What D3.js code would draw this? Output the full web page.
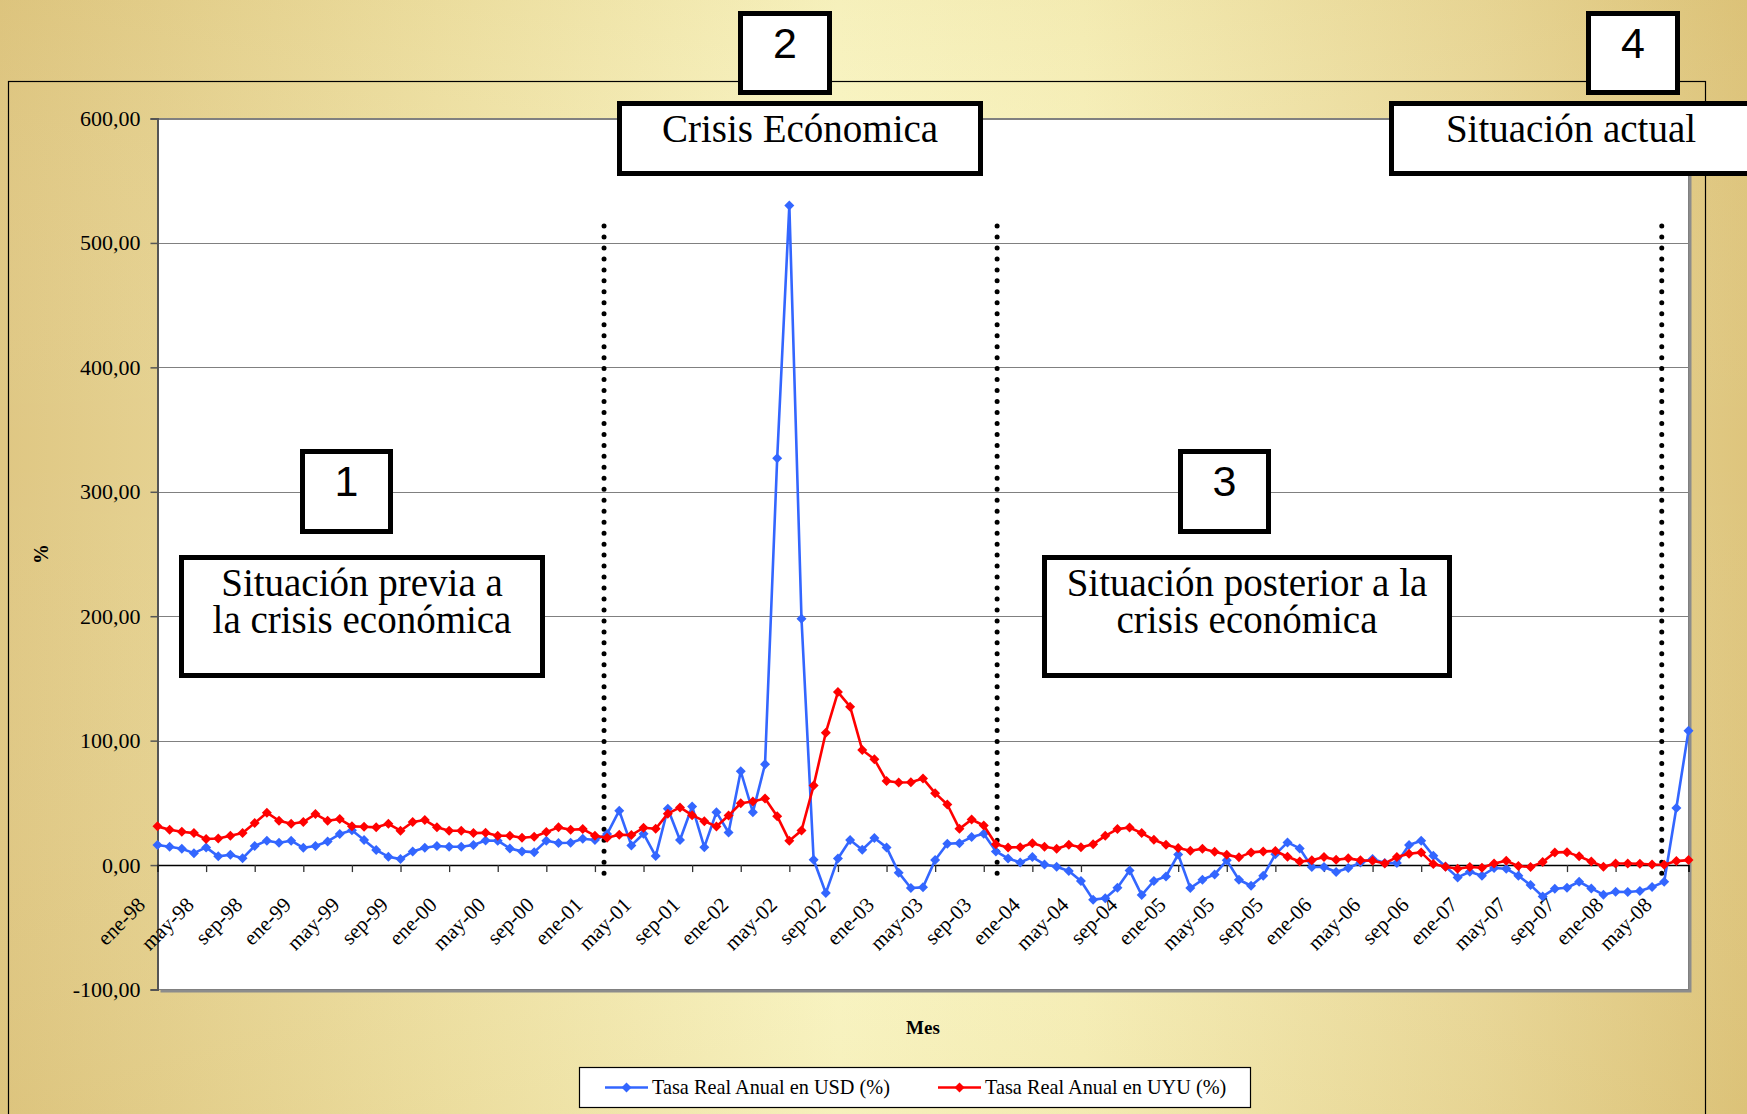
<!DOCTYPE html>
<html>
<head>
<meta charset="utf-8">
<script src="https://cdn.jsdelivr.net/npm/d3@7"></script>
<style>
  html, body { margin: 0; padding: 0; overflow: hidden; background: #fff; }
  svg { display: block; }
</style>
</head>
<body>
<svg id="chart" width="1747" height="1114"></svg>
<script>
// ---------------- DATA ----------------
const monthNames = ["ene","feb","mar","abr","may","jun","jul","ago","sep","oct","nov","dic"];
const years = ["98","99","00","01","02","03","04","05","06","07","08"];
const lastMonthOf2008 = 7; // ene-98 ... jul-08
const categories = [];
years.forEach((yy, yi) => monthNames.forEach((m, mi) => {
  if (yi < years.length - 1 || mi < lastMonthOf2008) categories.push(m + "-" + yy);
}));
const tickLabels = categories.filter((c, i) => i % 4 === 0);

const usdRate = [
  16.1, 14.7, 13.1, 9.6, 14.2, 7.0, 8.3, 5.4, 15.3, 19.6,
  17.9, 19.6, 13.9, 15.3, 19.0, 24.9, 27.9, 20.1, 12.1, 6.7,
  4.8, 11.0, 13.9, 15.3, 14.7, 14.7, 16.1, 19.8, 19.6, 13.4,
  11.0, 10.4, 19.6, 17.7, 17.9, 21.2, 20.1, 24.9, 43.7, 15.8,
  25.2, 7.2, 45.3, 20.1, 47.1, 14.4, 42.5, 26.2, 75.4, 42.5,
  81.0, 327.0, 530.0, 198.0, 4.3, -22.5, 5.3, 20.1, 12.3, 21.7,
  14.2, -6.1, -18.4, -17.9, 4.0, 17.1, 17.6, 22.5, 25.1, 11.0,
  5.3, 2.1, 6.4, 0.5, -1.3, -4.8, -12.8, -27.8, -26.7, -18.2,
  -4.3, -24.1, -12.8, -9.1, 8.5, -18.5, -11.8, -7.5, 3.8, -11.8,
  -16.6, -8.6, 8.6, 18.2, 13.4, -1.6, -1.6, -5.6, -2.4, 2.1,
  4.8, 1.6, 1.6, 16.1, 19.6, 7.5, -1.1, -9.9, -5.4, -8.6,
  -2.4, -2.9, -8.6, -16.1, -25.2, -19.0, -18.2, -13.4, -18.8, -23.8,
  -21.4, -21.7, -20.9, -17.7, -13.4, 45.8, 108.0
];
const uyuRate = [
  31.1, 28.4, 26.8, 25.7, 20.9, 21.4, 23.6, 25.7, 33.8, 42.1,
  35.6, 33.2, 34.6, 41.0, 35.6, 37.0, 31.1, 30.8, 30.3, 33.2,
  27.6, 34.6, 36.2, 30.3, 27.6, 27.6, 25.7, 26.0, 23.6, 23.6,
  22.0, 22.8, 26.5, 30.3, 28.4, 28.9, 23.6, 22.0, 24.4, 24.1,
  30.0, 29.2, 41.3, 46.3, 40.1, 35.3, 31.0, 39.8, 49.7, 51.1,
  53.5, 39.3, 19.5, 27.8, 63.9, 106.4, 139.0, 127.3, 92.5, 85.0,
  67.6, 66.3, 66.6, 69.5, 57.8, 48.7, 29.1, 36.6, 31.8, 16.8,
  14.2, 14.4, 17.6, 14.7, 13.1, 16.3, 14.4, 16.8, 23.5, 28.9,
  30.2, 25.7, 20.3, 16.3, 13.7, 11.5, 13.1, 10.7, 8.3, 6.2,
  10.2, 11.0, 11.3, 6.7, 2.9, 3.8, 6.4, 4.3, 5.4, 3.8,
  3.5, 1.3, 6.4, 9.1, 10.2, 0.8, -1.3, -2.9, -1.6, -2.1,
  1.3, 3.5, -0.8, -1.6, 2.4, 10.2, 10.4, 7.0, 2.9, -1.3,
  1.3, 1.3, 1.1, 0.5, 0.3, 3.2, 4.0
];
const seriesNames = ["Tasa Real Anual en USD (%)", "Tasa Real Anual en UYU (%)"];
const yTicks = [-100, 0, 100, 200, 300, 400, 500, 600];
// phase separators, expressed as (fractional) month index
const phaseBreaks = [36.75, 69.1, 123.8];
const phaseNumbers = ["1", "2", "3", "4"];
const phaseTitles = [
  ["Situación previa a", "la crisis económica"],
  ["Crisis Ecónomica"],
  ["Situación posterior a la", "crisis económica"],
  ["Situación actual"]
];

// ---------------- LAYOUT ----------------
const W = 1747, H = 1114;
const plot = { left: 157.5, right: 1688.5, top: 118.5, bottom: 989.5 };
const colors = { usd: "#3366FF", uyu: "#FF0000" };
const serif = "'Liberation Serif','Times New Roman',Times,serif";
const sans = "'Liberation Sans',Arial,Helvetica,sans-serif";

const svg = d3.select("#chart");
const defs = svg.append("defs");

// background gradient
const bg = defs.append("linearGradient").attr("id", "bgGrad").attr("x1", "0").attr("x2", "1").attr("y1", "0").attr("y2", "0");
[["0%", "#dfc783"], ["25%", "#efe2a6"], ["48%", "#fbf8c8"], ["62%", "#f8f2bd"], ["85%", "#ead99b"], ["100%", "#dec57d"]]
  .forEach(([o, c]) => bg.append("stop").attr("offset", o).attr("stop-color", c));
const bgV = defs.append("linearGradient").attr("id", "bgGradV").attr("x1", "0").attr("x2", "0").attr("y1", "0").attr("y2", "1");
[["0%", "#c8a84a", 0.10], ["40%", "#ffffff", 0], ["100%", "#c8a84a", 0.10]]
  .forEach(([o, c, a]) => bgV.append("stop").attr("offset", o).attr("stop-color", c).attr("stop-opacity", a));

svg.append("rect").attr("width", W).attr("height", H).attr("fill", "url(#bgGrad)");
svg.append("rect").attr("width", W).attr("height", H).attr("fill", "url(#bgGradV)");

// chart frame
svg.append("rect").attr("x", 8.5).attr("y", 81.5).attr("width", 1705.5 - 8.5).attr("height", 1200)
  .attr("fill", "none").attr("stroke", "#000").attr("stroke-width", 1.2);

// scales
const x = d3.scalePoint().domain(categories).range([plot.left, plot.right]);
const xIdx = d3.scaleLinear().domain([0, categories.length - 1]).range([plot.left, plot.right]);
const y = d3.scaleLinear().domain([-100, 600]).range([plot.bottom, plot.top]);

// plot area with shadow
svg.append("rect").attr("x", plot.left + 3).attr("y", plot.top + 3)
  .attr("width", plot.right - plot.left).attr("height", plot.bottom - plot.top).attr("fill", "#8c8c8c");
svg.append("rect").attr("x", plot.left).attr("y", plot.top)
  .attr("width", plot.right - plot.left).attr("height", plot.bottom - plot.top)
  .attr("fill", "#fff").attr("stroke", "#808080").attr("stroke-width", 1);

// gridlines
svg.append("g").selectAll("line").data(yTicks.filter(v => v !== 0 && v !== -100)).join("line")
  .attr("x1", plot.left).attr("x2", plot.right)
  .attr("y1", d => Math.round(y(d)) + 0.5).attr("y2", d => Math.round(y(d)) + 0.5)
  .attr("stroke", "#808080").attr("stroke-width", 1.2);

// y axis
const fmt = d => d3.format(".2f")(d).replace("−", "-").replace(".", ",");
const yAxis = svg.append("g").attr("transform", `translate(${plot.left},0)`)
  .call(d3.axisLeft(y).tickValues(yTicks).tickFormat(fmt).tickSize(7).tickPadding(10));
yAxis.select(".domain").attr("stroke", "#555").attr("stroke-width", 2);
yAxis.selectAll(".tick line").attr("stroke", "#555").attr("stroke-width", 1.5);
yAxis.selectAll(".tick text").attr("font-family", serif).attr("font-size", 22).attr("fill", "#000");

// x axis at y = 0
const xAxis = svg.append("g").attr("transform", `translate(0,${y(0)})`)
  .call(d3.axisBottom(x).tickValues(tickLabels).tickSize(7).tickFormat(""));
xAxis.select(".domain").attr("stroke", "#000").attr("stroke-width", 1.6);
xAxis.selectAll(".tick line").attr("stroke", "#333").attr("stroke-width", 1.3);
svg.append("g").selectAll("text").data(tickLabels).join("text")
  .attr("transform", d => `translate(${x(d) - 11},${y(0) + 41}) rotate(-45)`)
  .attr("text-anchor", "end")
  .attr("font-family", serif).attr("font-size", 21).attr("fill", "#000")
  .text(d => d);

// axis titles
svg.append("text").attr("transform", `translate(48,554) rotate(-90)`)
  .attr("text-anchor", "middle").attr("font-family", serif).attr("font-weight", "bold")
  .attr("font-size", 20).text("%");
svg.append("text").attr("x", (plot.left + plot.right) / 2).attr("y", 1034)
  .attr("text-anchor", "middle").attr("font-family", serif).attr("font-weight", "bold")
  .attr("font-size", 19).text("Mes");

// dotted phase separators
svg.append("g").selectAll("line").data(phaseBreaks).join("line")
  .attr("x1", d => xIdx(d)).attr("x2", d => xIdx(d))
  .attr("y1", 226).attr("y2", 876)
  .attr("stroke", "#000").attr("stroke-width", 5)
  .attr("stroke-linecap", "round").attr("stroke-dasharray", "0 10.97");

// series
const diamond = { draw(ctx, size) { const r = Math.sqrt(size) / 2; ctx.moveTo(0, -r); ctx.lineTo(r, 0); ctx.lineTo(0, r); ctx.lineTo(-r, 0); ctx.closePath(); } };
const diamondPath = d3.symbol().type(diamond).size(100)();
const line = d3.line().x((d, i) => x(categories[i])).y(d => y(d));
const series = [
  { name: seriesNames[0], values: usdRate, color: colors.usd },
  { name: seriesNames[1], values: uyuRate, color: colors.uyu }
];
series.forEach(s => {
  const g = svg.append("g");
  g.append("path").attr("d", line(s.values)).attr("fill", "none")
    .attr("stroke", s.color).attr("stroke-width", 2.6).attr("stroke-linejoin", "round");
  g.selectAll("path.m").data(s.values).join("path").attr("class", "m")
    .attr("d", diamondPath)
    .attr("transform", (d, i) => `translate(${x(categories[i])},${y(d)})`)
    .attr("fill", s.color);
});

// annotation boxes
function box(x0, y0, x1, y1) {
  svg.append("rect").attr("x", x0 + 2.5).attr("y", y0 + 2.5)
    .attr("width", x1 - x0 - 5).attr("height", y1 - y0 - 5)
    .attr("fill", "#fff").attr("stroke", "#000").attr("stroke-width", 5);
}
const numBoxes = [[300, 449, 393, 534], [738, 11, 832, 95], [1178, 449, 1271, 534], [1586, 11, 1680, 95]];
const titleBoxes = [[179, 555, 545, 678], [617, 101, 983, 176], [1042, 555, 1452, 678], [1389, 101, 1770, 176]];
const titleCenters = [362, 800, 1247, 1571];
numBoxes.forEach((b, i) => {
  box(...b);
  svg.append("text").attr("x", (b[0] + b[2]) / 2).attr("y", b[1] + 47)
    .attr("text-anchor", "middle").attr("font-family", sans).attr("font-size", 43)
    .text(phaseNumbers[i]);
});
titleBoxes.forEach((b, i) => {
  box(...b);
  const t = svg.append("text").attr("text-anchor", "middle").attr("font-family", serif).attr("font-size", 39);
  phaseTitles[i].forEach((s, k) => {
    t.append("tspan").attr("x", titleCenters[i]).attr("y", b[1] + 41 + k * 37).text(s);
  });
});

// legend
const leg = svg.append("g");
leg.append("rect").attr("x", 579.5).attr("y", 1067.5).attr("width", 671).attr("height", 40)
  .attr("fill", "#fff").attr("stroke", "#000").attr("stroke-width", 1.2);
const legItems = [{ x0: 605, tx: 652 }, { x0: 938, tx: 985 }];
series.forEach((s, i) => {
  const it = legItems[i];
  leg.append("line").attr("x1", it.x0).attr("x2", it.x0 + 43).attr("y1", 1087.5).attr("y2", 1087.5)
    .attr("stroke", s.color).attr("stroke-width", 2.6);
  leg.append("path").attr("d", diamondPath).attr("transform", `translate(${it.x0 + 21.5},1087.5)`).attr("fill", s.color);
  leg.append("text").attr("x", it.tx).attr("y", 1094).attr("font-family", serif).attr("font-size", 20.3)
    .text(s.name);
});
</script>
</body>
</html>
